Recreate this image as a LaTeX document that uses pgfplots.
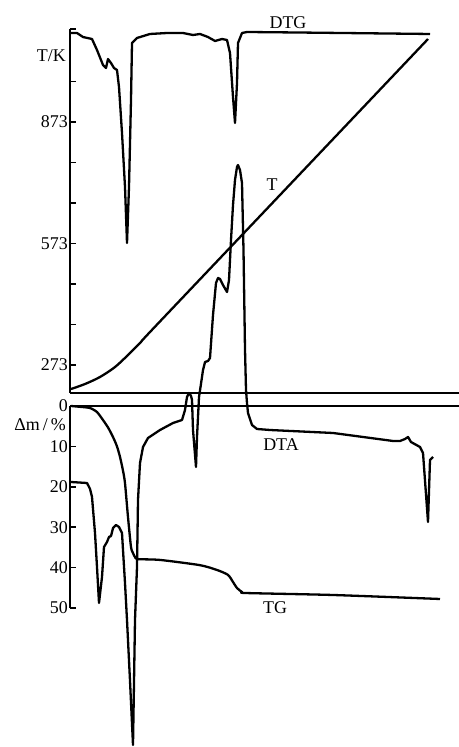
\documentclass[border=0pt]{standalone}
\usepackage{fontspec}
\setmainfont{Liberation Serif}
\usepackage{pgfplots}
\pgfplotsset{compat=1.18}
\begin{document}
\begin{tikzpicture}[font=\fontsize{18}{20}\selectfont]
\useasboundingbox (0bp,0bp) rectangle (459bp,747bp);
\pgfplotsset{
  common/.style={
    scale only axis, width=389bp, xmin=70, xmax=459,
    axis x line=none, axis y line=left,
    axis line style={-, line width=1.8bp},
    tick align=inside, major tick length=6bp, minor tick length=6bp,
    every tick/.append style={black, line width=1.5bp},
    tick label style={font=\fontsize{18}{20}\selectfont},
    /pgf/number format/assume math mode=true,
    yticklabel style={inner xsep=2bp},
    clip=false,
    curve/.style={black, line width=2.3bp, line join=round, no markers},
  }
}
% ---------- upper panel: temperature (T/K), DTG, T ----------
\begin{axis}[common, at={(70bp,354bp)}, anchor=south west, height=364bp,
  ymin=203.9, ymax=1102.6,
  ytick={273,573,873}, minor ytick={373,473,673,773,973,1102}]
\draw[line width=1.6bp] (axis cs:70,203.9) -- (axis cs:459,203.9);
% DTG
\addplot[curve] coordinates {
(71,1092.7) (77,1092.7) (83,1082.8) (92,1077.9) (97,1050.7) (103,1013.7)
(106,1006.3) (108,1028.5) (111,1018.6) (114,1006.3) (117,1001.4) (119,959.4)
(122,845.8) (125,712.5) (127,574.2) (129,712.5) (131,927.3) (132,1068.0)
(137,1080.4) (150,1090.3) (167,1092.7) (183,1092.7) (193,1087.8) (200,1090.3)
(208,1082.8) (215,1073.0) (222,1077.9) (227,1075.4) (230,1043.3) (233,934.7)
(235,870.5) (237,969.3) (238,1068.0) (242,1092.7) (247,1095.2) (300,1093.9)
(430,1090.3)};
% T
\addplot[curve, smooth] coordinates {
(71,213.7) (85,226.1) (100,243.4) (115,268.0) (128,297.7) (140,327.3)
(150,354.5) (230,562.7) (300,744.8) (428,1077.9)};
\node at (axis cs:288,1117.4) {DTG};
\node at (axis cs:272,717.4) {T};
\node[anchor=east, inner sep=0] at (axis cs:66,1035.9) {T/K};
\end{axis}
% ---------- lower panel: mass loss (Delta m / %), TG, DTA ----------
\begin{axis}[common, at={(70bp,341bp)}, anchor=north west, height=202bp,
  ymin=0, ymax=50, y dir=reverse, ytick={0,10,...,50}]
\draw[line width=1.6bp] (axis cs:70,0) -- (axis cs:459,0);
% TG
\addplot[curve, smooth, tension=0.4] coordinates {
(71,0) (80,0.2) (90,0.5) (97,1.5) (103,3.47) (108,5.3) (113,7.67) (117,10)
(120,12.6) (123,16) (125,19.1) (128,27.5) (131,34.9) (133,36.4) (135,37.4)
(138,37.9) (160,38.1) (200,39.4) (217,40.59) (228,41.8) (233,43.56)
(237,45.05) (242,46.04) (247,46.3) (333,46.78) (440,47.77)};
% DTA
\addplot[curve] coordinates {
(71,18.81) (87,19.06) (90,20.5) (92,22.52) (95,31.44) (97,39.85) (99,48.76)
(102,42.33) (104,34.90) (107,33.66) (109,32.43) (111,32.18) (113,30.20)
(116,29.46) (119,29.95) (122,31.44) (123,35.64) (125,43.81) (127,52.97)
(130,68) (133,83.91) (135,52.97) (137,39.85) (138,23.27) (140,14.11)
(143,10.15) (148,7.92) (160,5.94) (173,4.21) (182,3.47) (185,0.99)
(187,-2.23) (189,-3.22) (191,-2.5) (192,-1.49) (193,5.94) (196,15.1)
(197,7.67) (199,-2.2) (201,-5.5) (203,-8.9) (205,-10.89)
(208,-11.14) (210,-11.88) (213,-22.52) (216,-30.45) (218,-31.68) (220,-31.44)
(223,-29.95) (227,-28.22) (229,-31.19) (231,-41.09) (233,-49.75) (235,-55.94)
(237,-59.16) (238,-59.65) (240,-58.42) (242,-55.2) (243.5,-38.6) (245,-14)
(246,-4) (247,-0.7) (248,1.73) (252,4.7) (257,5.69) (270,5.94) (333,6.68)
(393,8.66) (400,8.66) (405,8.17) (408,7.67) (411,8.91) (420,10.15) (423,11.63)
(428,28.71) (430,13.37) (433,12.62)};
\node at (axis cs:281,9.65) {DTA};
\node at (axis cs:275,50.0) {TG};
\node[anchor=east, inner sep=0] at (axis cs:66,4.7) {Δm\,/\,\%};
\end{axis}
\end{tikzpicture}
\end{document}
